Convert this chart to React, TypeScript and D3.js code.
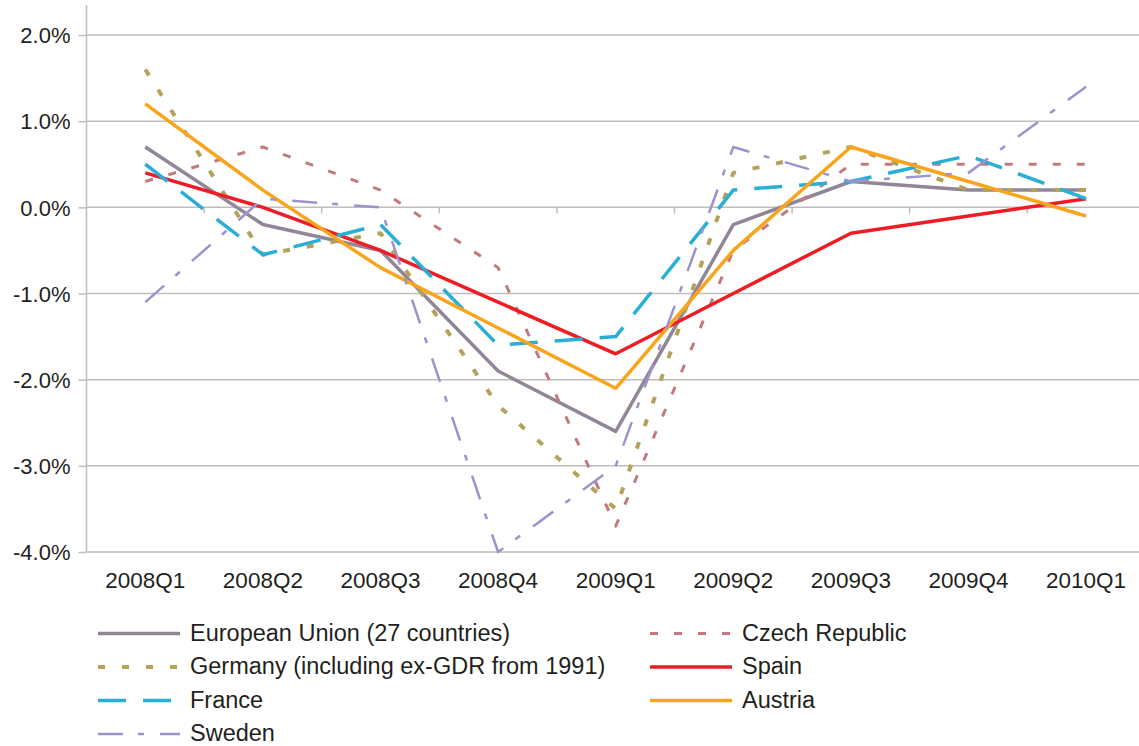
import * as d3 from 'd3';
import React, { useEffect, useRef } from 'react';

// quarters on the x axis
const quarters = ['2008Q1', '2008Q2', '2008Q3', '2008Q4', '2009Q1', '2009Q2', '2009Q3', '2009Q4', '2010Q1'];
const yTicks = [-4, -3, -2, -1, 0, 1, 2];

// quarter-on-quarter change, %
const euValues = [0.7, -0.2, -0.5, -1.9, -2.6, -0.2, 0.3, 0.2, 0.2];
const czechValues = [0.3, 0.7, 0.2, -0.7, -3.7, -0.5, 0.5, 0.5, 0.5];
const germanyValues = [1.6, -0.55, -0.3, -2.3, -3.5, 0.4, 0.7, 0.2, 0.2];
const spainValues = [0.4, 0.0, -0.5, -1.1, -1.7, -1.0, -0.3, -0.1, 0.1];
const franceValues = [0.5, -0.55, -0.2, -1.6, -1.5, 0.2, 0.3, 0.6, 0.1];
const austriaValues = [1.2, 0.2, -0.7, -1.4, -2.1, -0.5, 0.7, 0.3, -0.1];
const swedenValues = [-1.1, 0.1, 0.0, -4.0, -3.0, 0.7, 0.3, 0.4, 1.4];

type Series = { name: string; values: number[]; color: string; width: number; dash: string | null };

// drawing order = Excel series order (Sweden ends up on top)
const series: Series[] = [
    { name: 'European Union (27 countries)', values: euValues, color: '#918698', width: 3.5, dash: null },
    { name: 'Czech Republic', values: czechValues, color: '#C27A7E', width: 3, dash: '8,16' },
    { name: 'Germany (including ex-GDR from 1991)', values: germanyValues, color: '#B3A35A', width: 4, dash: '7,17' },
    { name: 'Spain', values: spainValues, color: '#EE1C25', width: 3.5, dash: null },
    { name: 'France', values: franceValues, color: '#29AED6', width: 3.5, dash: '28,17' },
    { name: 'Austria', values: austriaValues, color: '#F9A51B', width: 3.5, dash: null },
    { name: 'Sweden', values: swedenValues, color: '#9D93CC', width: 2.5, dash: '25,15,6,16' },
];

const W = 1139;
const H = 746;
const left = 86.5;
const step = 117.6;
const font = '"Liberation Sans", Arial, sans-serif';
const gridColor = '#C1BBBB';
const textColor = '#231F20';

function App() {
    const ref = useRef<SVGSVGElement>(null);

    useEffect(() => {
        const svg = d3.select(ref.current);
        svg.selectAll('*').remove();

        const x = d3.scaleBand<string>()
            .domain(quarters)
            .range([left, left + step * quarters.length]);

        const y = d3.scaleLinear()
            .domain([-4, 2])
            .range([552, 35]);

        const cx = (i: number) => (x(quarters[i]) as number) + x.bandwidth() / 2;

        // gridlines
        svg.append('g')
            .selectAll('line')
            .data(yTicks)
            .join('line')
            .attr('x1', left)
            .attr('x2', W)
            .attr('y1', d => y(d))
            .attr('y2', d => y(d))
            .attr('stroke', gridColor)
            .attr('stroke-width', 1.5);

        // y axis
        const yAxis = d3.axisLeft(y)
            .tickValues(yTicks)
            .tickSize(8)
            .tickPadding(8)
            .tickFormat(d => `${(+d).toFixed(1)}%`);
        const gy = svg.append('g').attr('transform', `translate(${left},0)`).call(yAxis);
        gy.select('.domain').remove();
        gy.selectAll('.tick line').attr('stroke', gridColor).attr('stroke-width', 1.5);
        gy.selectAll('.tick text')
            .attr('font-family', font)
            .attr('font-size', 22)
            .attr('fill', textColor)
            .attr('dy', '0.35em');
        svg.append('line')
            .attr('x1', left).attr('x2', left)
            .attr('y1', 5).attr('y2', y(-4))
            .attr('stroke', gridColor)
            .attr('stroke-width', 1.5);

        // x axis sits at 0, labels at the bottom
        const gx = svg.append('g').attr('transform', `translate(0,${y(0)})`);
        gx.selectAll('line')
            .data(d3.range(1, quarters.length))
            .join('line')
            .attr('x1', i => x(quarters[i]) as number)
            .attr('x2', i => x(quarters[i]) as number)
            .attr('y1', 0)
            .attr('y2', 6)
            .attr('stroke', gridColor)
            .attr('stroke-width', 1.5);
        svg.append('g')
            .selectAll('text')
            .data(quarters)
            .join('text')
            .attr('x', (d, i) => cx(i))
            .attr('y', 588)
            .attr('text-anchor', 'middle')
            .attr('font-family', font)
            .attr('font-size', 22.5)
            .attr('fill', textColor)
            .text(d => d);

        // lines
        const line = d3.line<number>()
            .x((d, i) => cx(i))
            .y(d => y(d));

        svg.append('g')
            .selectAll('path')
            .data(series)
            .join('path')
            .attr('d', d => line(d.values))
            .attr('fill', 'none')
            .attr('stroke', d => d.color)
            .attr('stroke-width', d => d.width)
            .attr('stroke-linejoin', 'round')
            .attr('stroke-dasharray', d => d.dash)

        // legend, two columns filled row by row
        const legendCols = [98, 650];
        const legendRows = [633.5, 667, 700.5, 734];
        const lg = svg.append('g')
            .selectAll('g')
            .data(series)
            .join('g')
            .attr('transform', (d, i) => `translate(${legendCols[i % 2]},${legendRows[Math.floor(i / 2)]})`);
        lg.append('line')
            .attr('x1', 0).attr('x2', 82)
            .attr('y1', 0).attr('y2', 0)
            .attr('stroke', d => d.color)
            .attr('stroke-width', d => d.width)
            .attr('stroke-dasharray', d => d.dash);
        lg.append('text')
            .attr('x', 92)
            .attr('y', 7)
            .attr('font-family', font)
            .attr('font-size', 23.5)
            .attr('fill', textColor)
            .text(d => d.name);
    }, []);

    return (
        <svg ref={ref} width={W} height={H} style={{ position: 'absolute', left: 0, top: 0, background: '#fff' }} />
    );
}

export default App;
